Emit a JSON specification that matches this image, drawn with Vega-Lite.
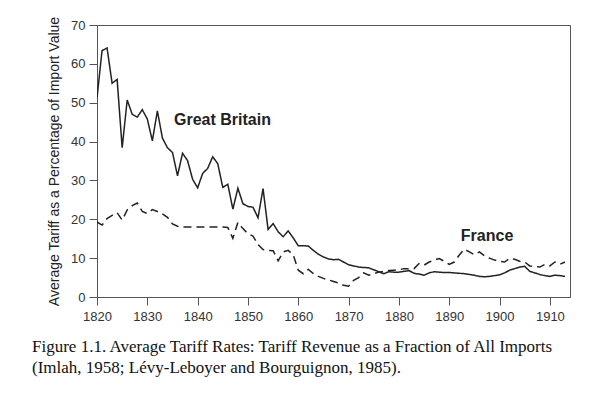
{
  "$schema": "https://vega.github.io/schema/vega-lite/v6.json",
  "width": 473,
  "height": 272,
  "autosize": {"type": "none"},
  "padding": {"left": 97, "top": 25, "right": 30, "bottom": 102},
  "background": "white",
  "config": {
    "view": {"stroke": "#555", "strokeWidth": 1},
    "axis": {"grid": false, "labelFont": "Liberation Sans", "titleFont": "Liberation Sans", "labelFontSize": 13, "labelColor": "#333", "domainColor": "#555", "tickColor": "#555", "tickSize": 8, "titleColor": "#222", "titleFontWeight": "normal", "labelFlush": false}
  },
  "title": {
    "text": ["Figure 1.1. Average Tariff Rates: Tariff Revenue as a Fraction of All Imports", "(Imlah, 1958; Lévy-Leboyer and Bourguignon, 1985)."],
    "orient": "bottom", "anchor": "start", "frame": "group", "dx": -65, "offset": 16,
    "font": "Liberation Serif", "fontSize": 17, "fontWeight": "normal", "color": "#111", "lineHeight": 21, "baseline": "top"
  },
  "datasets": {
    "labels": [
      {"label": "Great Britain", "year": 1835.3, "value": 45.6},
      {"label": "France", "year": 1892.3, "value": 15.7}
    ]
  },
  "data": {"values": [
    {"year":1820,"country":"Great Britain","value":51.2},{"year":1821,"country":"Great Britain","value":63.4},{"year":1822,"country":"Great Britain","value":64.1},{"year":1823,"country":"Great Britain","value":55.0},{"year":1824,"country":"Great Britain","value":56.0},{"year":1825,"country":"Great Britain","value":38.4},{"year":1826,"country":"Great Britain","value":50.7},{"year":1827,"country":"Great Britain","value":47.0},{"year":1828,"country":"Great Britain","value":46.3},{"year":1829,"country":"Great Britain","value":48.2},
    {"year":1830,"country":"Great Britain","value":45.8},{"year":1831,"country":"Great Britain","value":40.2},{"year":1832,"country":"Great Britain","value":47.9},{"year":1833,"country":"Great Britain","value":40.9},{"year":1834,"country":"Great Britain","value":38.4},{"year":1835,"country":"Great Britain","value":37.2},{"year":1836,"country":"Great Britain","value":31.2},{"year":1837,"country":"Great Britain","value":37.0},{"year":1838,"country":"Great Britain","value":35.1},{"year":1839,"country":"Great Britain","value":30.3},
    {"year":1840,"country":"Great Britain","value":28.1},{"year":1841,"country":"Great Britain","value":31.8},{"year":1842,"country":"Great Britain","value":33.1},{"year":1843,"country":"Great Britain","value":36.1},{"year":1844,"country":"Great Britain","value":34.3},{"year":1845,"country":"Great Britain","value":28.2},{"year":1846,"country":"Great Britain","value":29.0},{"year":1847,"country":"Great Britain","value":22.6},{"year":1848,"country":"Great Britain","value":28.0},{"year":1849,"country":"Great Britain","value":24.0},
    {"year":1850,"country":"Great Britain","value":23.3},{"year":1851,"country":"Great Britain","value":23.1},{"year":1852,"country":"Great Britain","value":20.4},{"year":1853,"country":"Great Britain","value":27.9},{"year":1854,"country":"Great Britain","value":17.4},{"year":1855,"country":"Great Britain","value":18.9},{"year":1856,"country":"Great Britain","value":16.8},{"year":1857,"country":"Great Britain","value":15.5},{"year":1858,"country":"Great Britain","value":17.0},{"year":1859,"country":"Great Britain","value":15.2},
    {"year":1860,"country":"Great Britain","value":13.2},{"year":1861,"country":"Great Britain","value":13.2},{"year":1862,"country":"Great Britain","value":13.1},{"year":1863,"country":"Great Britain","value":12.0},{"year":1864,"country":"Great Britain","value":11.0},{"year":1865,"country":"Great Britain","value":10.3},{"year":1866,"country":"Great Britain","value":9.8},{"year":1867,"country":"Great Britain","value":9.6},{"year":1868,"country":"Great Britain","value":9.7},{"year":1869,"country":"Great Britain","value":9.0},
    {"year":1870,"country":"Great Britain","value":8.3},{"year":1871,"country":"Great Britain","value":8.0},{"year":1872,"country":"Great Britain","value":7.7},{"year":1873,"country":"Great Britain","value":7.6},{"year":1874,"country":"Great Britain","value":7.5},{"year":1875,"country":"Great Britain","value":7.0},{"year":1876,"country":"Great Britain","value":6.5},{"year":1877,"country":"Great Britain","value":6.0},{"year":1878,"country":"Great Britain","value":6.5},{"year":1879,"country":"Great Britain","value":6.4},
    {"year":1880,"country":"Great Britain","value":6.4},{"year":1881,"country":"Great Britain","value":6.6},{"year":1882,"country":"Great Britain","value":6.8},{"year":1883,"country":"Great Britain","value":6.1},{"year":1884,"country":"Great Britain","value":5.9},{"year":1885,"country":"Great Britain","value":5.6},{"year":1886,"country":"Great Britain","value":6.2},{"year":1887,"country":"Great Britain","value":6.5},{"year":1888,"country":"Great Britain","value":6.4},{"year":1889,"country":"Great Britain","value":6.3},
    {"year":1890,"country":"Great Britain","value":6.3},{"year":1891,"country":"Great Britain","value":6.2},{"year":1892,"country":"Great Britain","value":6.1},{"year":1893,"country":"Great Britain","value":6.0},{"year":1894,"country":"Great Britain","value":5.8},{"year":1895,"country":"Great Britain","value":5.6},{"year":1896,"country":"Great Britain","value":5.3},{"year":1897,"country":"Great Britain","value":5.2},{"year":1898,"country":"Great Britain","value":5.3},{"year":1899,"country":"Great Britain","value":5.5},
    {"year":1900,"country":"Great Britain","value":5.7},{"year":1901,"country":"Great Britain","value":6.2},{"year":1902,"country":"Great Britain","value":6.9},{"year":1903,"country":"Great Britain","value":7.3},{"year":1904,"country":"Great Britain","value":7.7},{"year":1905,"country":"Great Britain","value":7.9},{"year":1906,"country":"Great Britain","value":6.6},{"year":1907,"country":"Great Britain","value":6.2},{"year":1908,"country":"Great Britain","value":5.8},{"year":1909,"country":"Great Britain","value":5.5},
    {"year":1910,"country":"Great Britain","value":5.3},{"year":1911,"country":"Great Britain","value":5.6},{"year":1912,"country":"Great Britain","value":5.5},{"year":1913,"country":"Great Britain","value":5.3},
    {"year":1820,"country":"France","value":19.3},{"year":1821,"country":"France","value":18.5},{"year":1822,"country":"France","value":20.2},{"year":1823,"country":"France","value":21.0},{"year":1824,"country":"France","value":21.7},{"year":1825,"country":"France","value":19.8},{"year":1826,"country":"France","value":22.4},{"year":1827,"country":"France","value":23.5},{"year":1828,"country":"France","value":24.2},{"year":1829,"country":"France","value":22.0},
    {"year":1830,"country":"France","value":21.5},{"year":1831,"country":"France","value":22.5},{"year":1832,"country":"France","value":22.0},{"year":1833,"country":"France","value":21.4},{"year":1834,"country":"France","value":20.5},{"year":1835,"country":"France","value":18.8},{"year":1836,"country":"France","value":18.2},{"year":1837,"country":"France","value":18.0},{"year":1838,"country":"France","value":18.0},{"year":1839,"country":"France","value":18.0},
    {"year":1840,"country":"France","value":18.0},{"year":1841,"country":"France","value":18.0},{"year":1842,"country":"France","value":18.0},{"year":1843,"country":"France","value":18.0},{"year":1844,"country":"France","value":18.0},{"year":1845,"country":"France","value":18.0},{"year":1846,"country":"France","value":17.9},{"year":1847,"country":"France","value":15.1},{"year":1848,"country":"France","value":19.2},{"year":1849,"country":"France","value":17.6},
    {"year":1850,"country":"France","value":16.3},{"year":1851,"country":"France","value":15.7},{"year":1852,"country":"France","value":13.5},{"year":1853,"country":"France","value":12.2},{"year":1854,"country":"France","value":12.0},{"year":1855,"country":"France","value":11.9},{"year":1856,"country":"France","value":9.3},{"year":1857,"country":"France","value":11.6},{"year":1858,"country":"France","value":12.0},{"year":1859,"country":"France","value":10.8},
    {"year":1860,"country":"France","value":6.9},{"year":1861,"country":"France","value":6.0},{"year":1862,"country":"France","value":7.1},{"year":1863,"country":"France","value":6.0},{"year":1864,"country":"France","value":5.3},{"year":1865,"country":"France","value":4.8},{"year":1866,"country":"France","value":4.4},{"year":1867,"country":"France","value":4.0},{"year":1868,"country":"France","value":3.6},{"year":1869,"country":"France","value":3.0},
    {"year":1870,"country":"France","value":2.8},{"year":1871,"country":"France","value":4.3},{"year":1872,"country":"France","value":5.0},{"year":1873,"country":"France","value":6.2},{"year":1874,"country":"France","value":5.6},{"year":1875,"country":"France","value":6.0},{"year":1876,"country":"France","value":6.4},{"year":1877,"country":"France","value":6.6},{"year":1878,"country":"France","value":6.8},{"year":1879,"country":"France","value":6.9},
    {"year":1880,"country":"France","value":7.0},{"year":1881,"country":"France","value":7.3},{"year":1882,"country":"France","value":7.3},{"year":1883,"country":"France","value":7.3},{"year":1884,"country":"France","value":8.6},{"year":1885,"country":"France","value":8.2},{"year":1886,"country":"France","value":9.0},{"year":1887,"country":"France","value":9.5},{"year":1888,"country":"France","value":9.9},{"year":1889,"country":"France","value":9.2},
    {"year":1890,"country":"France","value":8.4},{"year":1891,"country":"France","value":9.0},{"year":1892,"country":"France","value":10.8},{"year":1893,"country":"France","value":12.3},{"year":1894,"country":"France","value":11.6},{"year":1895,"country":"France","value":10.9},{"year":1896,"country":"France","value":11.6},{"year":1897,"country":"France","value":10.6},{"year":1898,"country":"France","value":10.0},{"year":1899,"country":"France","value":9.5},
    {"year":1900,"country":"France","value":9.2},{"year":1901,"country":"France","value":9.0},{"year":1902,"country":"France","value":9.9},{"year":1903,"country":"France","value":9.7},{"year":1904,"country":"France","value":9.2},{"year":1905,"country":"France","value":9.0},{"year":1906,"country":"France","value":8.0},{"year":1907,"country":"France","value":7.8},{"year":1908,"country":"France","value":7.7},{"year":1909,"country":"France","value":8.4},
    {"year":1910,"country":"France","value":8.0},{"year":1911,"country":"France","value":9.0},{"year":1912,"country":"France","value":8.4},{"year":1913,"country":"France","value":9.0}
  ]},
  "encoding": {
    "x": {"field": "year", "type": "quantitative", "scale": {"domain": [1820, 1914], "nice": false, "zero": false},
      "axis": {"values": [1820,1830,1840,1850,1860,1870,1880,1890,1900,1910], "format": "d", "title": null, "labelPadding": 5}},
    "y": {"field": "value", "type": "quantitative", "scale": {"domain": [0, 70], "nice": false},
      "axis": {"values": [0,10,20,30,40,50,60,70], "title": "Average Tariff as a Percentage of Import Value", "titleFontSize": 14, "titlePadding": 9, "labelPadding": 4}}
  },
  "layer": [
    {
      "mark": {"type": "line", "color": "#222", "strokeWidth": 1.5, "clip": true},
      "encoding": {
        "detail": {"field": "country"},
        "strokeDash": {"field": "country", "type": "nominal", "scale": {"domain": ["Great Britain", "France"], "range": [[1, 0], [8, 5]]}, "legend": null}
      }
    },
    {
      "data": {"name": "labels"},
      "mark": {"type": "text", "align": "left", "baseline": "middle", "font": "Liberation Sans", "fontSize": 16, "fontWeight": "bold", "color": "#222"},
      "encoding": {"text": {"field": "label"}}
    }
  ]
}
